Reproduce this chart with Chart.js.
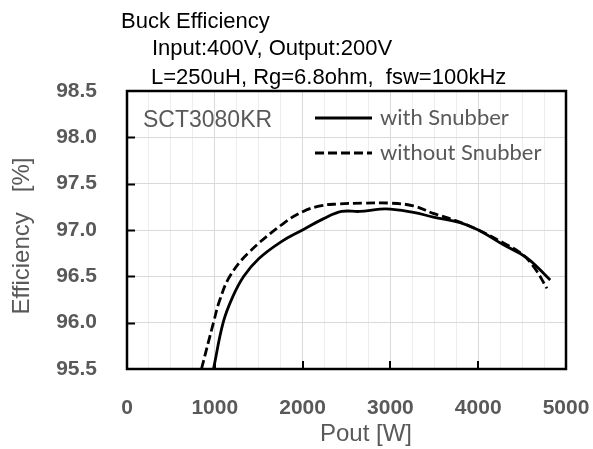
<!DOCTYPE html>
<html>
<head>
<meta charset="utf-8">
<script src="https://cdn.jsdelivr.net/npm/chart.js@4"></script>
<style>
  html, body { margin: 0; padding: 0; background: #fff; }
  #wrap { width: 593px; height: 449px; }
</style>
</head>
<body>
<div id="wrap"><canvas id="effChart" width="593" height="449"></canvas></div>
<script>
// Pout [W] / efficiency [%]
const snubP = [985, 1095, 1200, 1330, 1500, 1750, 2000, 2235, 2445, 2650, 2880, 3000, 3262, 3490, 3794, 4002, 4288, 4554, 4820];
const snubE = [95.5, 96.0, 96.27, 96.5, 96.69, 96.87, 97.0, 97.12, 97.2, 97.2, 97.225, 97.225, 97.19, 97.14, 97.08, 97.0, 96.84, 96.7, 96.46];
const noSnubP = [848, 985, 1057, 1171, 1380, 1780, 2007, 2200, 2388, 2692, 3000, 3262, 3487, 3750, 4000, 4288, 4512, 4650, 4783];
const noSnubE = [95.5, 96.0, 96.245, 96.5, 96.75, 97.07, 97.2, 97.26, 97.28, 97.29, 97.29, 97.26, 97.18, 97.1, 97.0, 96.86, 96.73, 96.58, 96.37];

const titleLines = ['Buck Efficiency', 'Input:400V, Output:200V', 'L=250uH, Rg=6.8ohm,  fsw=100kHz'];
const deviceName = 'SCT3080KR';
const seriesNames = ['with Snubber', 'without Snubber'];

const xMin = 0, xMax = 5000, xStep = 250;
const yMin = 95.5, yMax = 98.5, yStep = 0.5;

const toPoints = (xs, ys) => xs.map((x, i) => ({ x: x, y: ys[i] }));

const GRAY = '#595959';

// titles, device label, legend, inward ticks and the frame
const decorPlugin = {
  id: 'decor',
  afterDraw(chart) {
    const ctx = chart.ctx;
    const a = chart.chartArea;
    const xs = chart.scales.x, ys = chart.scales.y;
    ctx.save();

    // title block
    ctx.fillStyle = '#000';
    ctx.textBaseline = 'alphabetic';
    ctx.textAlign = 'left';
    ctx.font = '22px "Liberation Sans", Arial, sans-serif';
    ctx.fillText(titleLines[0], 121, 28);
    ctx.fillText(titleLines[1], 152, 55);
    ctx.fillText(titleLines[2], 151, 84);

    // axis titles
    ctx.textBaseline = 'middle';
    ctx.fillStyle = GRAY;
    ctx.font = '24px "Liberation Sans", Arial, sans-serif';
    ctx.textAlign = 'center';
    ctx.fillText('Pout [W]', 366, 434);
    ctx.save();
    ctx.translate(22, 236);
    ctx.rotate(-Math.PI / 2);
    ctx.fillText('Efficiency   [%]', 0, 0);
    ctx.restore();

    // device label
    ctx.textAlign = 'left';
    ctx.font = '23px "Liberation Sans", Arial, sans-serif';
    ctx.fillText(deviceName, 143, 121);

    // legend
    ctx.strokeStyle = '#000';
    ctx.lineWidth = 3;
    ctx.beginPath();
    ctx.moveTo(315, 118); ctx.lineTo(372, 118);
    ctx.stroke();
    ctx.setLineDash([9, 4]);
    ctx.beginPath();
    ctx.moveTo(315, 153); ctx.lineTo(372, 153);
    ctx.stroke();
    ctx.setLineDash([]);
    ctx.fillStyle = GRAY;
    ctx.font = '22px Lato, "Noto Sans", sans-serif';
    ctx.fillText(seriesNames[0], 380, 118);
    ctx.fillText(seriesNames[1], 380, 153);

    // inward tick marks
    ctx.lineWidth = 2;
    ctx.beginPath();
    for (let v = yMin + yStep; v < yMax; v += yStep) {
      const py = Math.round(ys.getPixelForValue(v)) + 0.5;
      ctx.moveTo(a.left, py); ctx.lineTo(a.left + 8, py);
    }
    for (let v = 1000; v < xMax; v += 1000) {
      const px = Math.round(xs.getPixelForValue(v));
      ctx.moveTo(px, a.bottom); ctx.lineTo(px, a.bottom - 8);
    }
    ctx.stroke();

    // frame
    ctx.lineWidth = 2.5;
    ctx.strokeRect(a.left, a.top, a.right - a.left, a.bottom - a.top);
    ctx.restore();
  }
};

new Chart(document.getElementById('effChart'), {
  type: 'scatter',
  data: {
    datasets: [
      {
        label: seriesNames[0],
        data: toPoints(snubP, snubE),
        showLine: true,
        borderColor: '#000',
        borderWidth: 2.8,
        pointRadius: 0,
        tension: 0.4
      },
      {
        label: seriesNames[1],
        data: toPoints(noSnubP, noSnubE),
        showLine: true,
        borderColor: '#000',
        borderWidth: 2.8,
        borderDash: [9, 4],
        pointRadius: 0,
        tension: 0.4
      }
    ]
  },
  options: {
    responsive: false,
    animation: false,
    layout: { padding: { top: 91, right: 27, left: 0, bottom: 0 } },
    plugins: {
      legend: { display: false },
      tooltip: { enabled: false },
      title: { display: false }
    },
    scales: {
      x: {
        type: 'linear',
        min: xMin, max: xMax,
        afterFit: s => { s.height = 80; s.paddingLeft = 0; s.paddingRight = 0; },
        border: { display: false },
        grid: {
          drawTicks: false,
          color: c => (c.tick && c.tick.value % 1000 === 0) ? '#d9d9d9' : '#ededed',
          lineWidth: 1
        },
        ticks: {
          stepSize: xStep,
          autoSkip: false,
          maxRotation: 0,
          padding: 27,
          color: GRAY,
          font: { family: '"Liberation Sans", Arial, sans-serif', size: 21, weight: 'bold' },
          callback: v => (v % 1000 === 0 ? String(v) : '')
        }
      },
      y: {
        type: 'linear',
        min: yMin, max: yMax,
        afterFit: s => { s.width = 127; s.paddingTop = 0; s.paddingBottom = 0; },
        border: { display: false },
        grid: { drawTicks: false, color: '#d9d9d9', lineWidth: 1 },
        ticks: {
          stepSize: yStep,
          padding: 30,
          color: GRAY,
          font: { family: '"Liberation Sans", Arial, sans-serif', size: 21, weight: 'bold' },
          callback: v => Number(v).toFixed(1)
        }
      }
    }
  },
  plugins: [decorPlugin]
});
</script>
</body>
</html>
